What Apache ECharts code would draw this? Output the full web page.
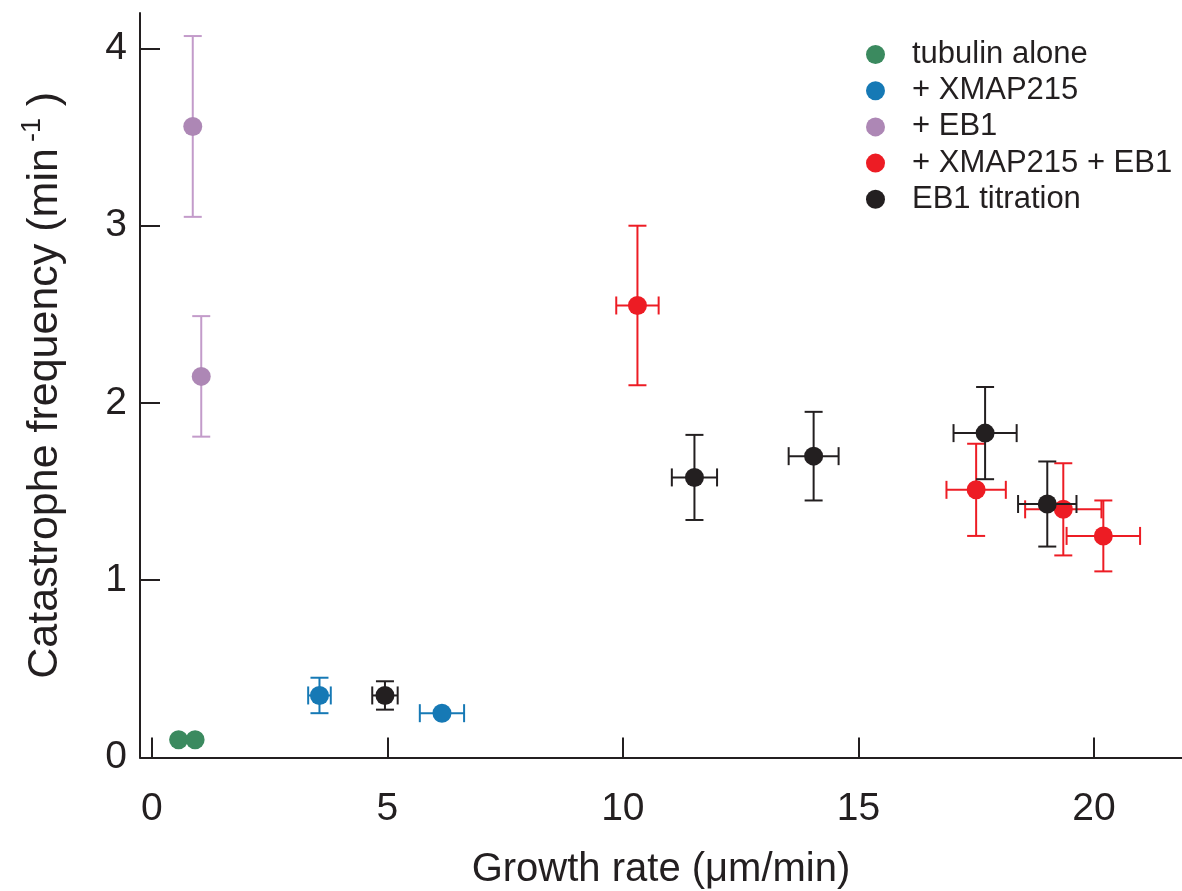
<!DOCTYPE html>
<html>
<head>
<meta charset="utf-8">
<script src="https://cdn.jsdelivr.net/npm/echarts@6/dist/echarts.min.js"></script>
<style>html,body{margin:0;padding:0;background:#fff;}#c{width:1182px;height:891px;}</style>
</head>
<body>
<div id="c"></div>
<script>
// ---- data ----
const seriesNames = ['tubulin alone', '+ XMAP215', '+ EB1', '+ XMAP215 + EB1', 'EB1 titration'];
const xTicks = [0, 5, 10, 15, 20];
const yTicks = [0, 1, 2, 3, 4];

const tubulinX = [0.57, 0.92];
const tubulinY = [0.10, 0.10];
const tubulinXErr = [0, 0];
const tubulinYErr = [0, 0];

const xmapX = [3.56, 6.16];
const xmapY = [0.35, 0.25];
const xmapXErr = [0.24, 0.47];
const xmapYErr = [0.10, 0];

const eb1X = [0.87, 1.05];
const eb1Y = [3.56, 2.15];
const eb1XErr = [0, 0];
const eb1YErr = [0.51, 0.34];

const bothX = [10.31, 17.50, 19.35, 20.20];
const bothY = [2.55, 1.51, 1.40, 1.25];
const bothXErr = [0.45, 0.63, 0.81, 0.78];
const bothYErr = [0.45, 0.26, 0.26, 0.20];

const titX = [4.95, 11.52, 14.05, 17.69, 19.01];
const titY = [0.35, 1.58, 1.70, 1.83, 1.43];
const titXErr = [0.27, 0.48, 0.53, 0.67, 0.62];
const titYErr = [0.08, 0.24, 0.25, 0.26, 0.24];

// ---- styles ----
const markerColors = ['#3b8a5f', '#1679b5', '#ad87b5', '#ed1c24', '#231f20'];
const barColors = ['#3b8a5f', '#1679b5', '#c39bca', '#ed1c24', '#231f20'];
const FONT = 'Liberation Sans, Arial, Helvetica, sans-serif';

const groups = [
  [tubulinX, tubulinY, tubulinXErr, tubulinYErr],
  [xmapX, xmapY, xmapXErr, xmapYErr],
  [eb1X, eb1Y, eb1XErr, eb1YErr],
  [bothX, bothY, bothXErr, bothYErr],
  [titX, titY, titXErr, titYErr]
];

function makeRender(color) {
  return function (params, api) {
    const x = api.value(0), y = api.value(1), ex = api.value(2), ey = api.value(3);
    const children = [];
    const st = { stroke: color, lineWidth: 2 };
    const cap = 9;
    if (ey > 0) {
      const t = api.coord([x, y + ey]), b = api.coord([x, y - ey]);
      children.push({ type: 'line', shape: { x1: t[0], y1: t[1], x2: b[0], y2: b[1] }, style: st });
      children.push({ type: 'line', shape: { x1: t[0] - cap, y1: t[1], x2: t[0] + cap, y2: t[1] }, style: st });
      children.push({ type: 'line', shape: { x1: b[0] - cap, y1: b[1], x2: b[0] + cap, y2: b[1] }, style: st });
    }
    if (ex > 0) {
      const l = api.coord([x - ex, y]), r = api.coord([x + ex, y]);
      children.push({ type: 'line', shape: { x1: l[0], y1: l[1], x2: r[0], y2: r[1] }, style: st });
      children.push({ type: 'line', shape: { x1: l[0], y1: l[1] - cap, x2: l[0], y2: l[1] + cap }, style: st });
      children.push({ type: 'line', shape: { x1: r[0], y1: r[1] - cap, x2: r[0], y2: r[1] + cap }, style: st });
    }
    return { type: 'group', children: children };
  };
}

const series = [];
groups.forEach(function (g, i) {
  const data = g[0].map(function (v, k) { return [v, g[1][k], g[2][k], g[3][k]]; });
  series.push({
    type: 'custom', name: seriesNames[i], data: data,
    renderItem: makeRender(barColors[i]),
    itemStyle: { color: markerColors[i] },
    encode: { x: 0, y: 1 },
    z: 2 + i * 2, silent: true
  });
  series.push({
    type: 'scatter', name: seriesNames[i],
    data: data.map(function (d) { return [d[0], d[1]]; }),
    symbol: 'circle', symbolSize: 19,
    itemStyle: { color: markerColors[i], opacity: 1 },
    z: 3 + i * 2
  });
});

const chart = echarts.init(document.getElementById('c'), null, { renderer: 'canvas' });
chart.setOption({
  animation: false,
  backgroundColor: '#ffffff',
  textStyle: { fontFamily: FONT },
  grid: { left: 140, right: 0, top: 13, bottom: 133.5, containLabel: false, outerBoundsMode: 'none' },
  legend: {
    orient: 'vertical',
    left: 861, top: 34,
    itemWidth: 19, itemHeight: 19,
    itemGap: 5.2,
    icon: 'circle',
    textStyle: { fontFamily: FONT, fontSize: 31, color: '#231f20', padding: [0, 0, 0, 22] },
    data: seriesNames.map(function (n, i) { return { name: n, icon: 'circle', itemStyle: { color: markerColors[i] } }; }),
    selectedMode: false
  },
  xAxis: {
    type: 'value', min: -0.25, max: 21.87,
    name: 'Growth rate (\u03bcm/min)', nameLocation: 'middle', nameGap: 92,
    nameTextStyle: { fontFamily: FONT, fontSize: 40, color: '#231f20' },
    axisLine: { onZero: false, lineStyle: { color: '#231f20', width: 2 } },
    axisTick: { inside: true, length: 20, lineStyle: { color: '#231f20', width: 2 }, customValues: xTicks },
    axisLabel: { fontFamily: FONT, fontSize: 39, color: '#231f20', margin: 32, customValues: xTicks },
    splitLine: { show: false }
  },
  yAxis: {
    type: 'value', min: 0, max: 4.2,
    name: '{a|Catastrophe frequency (min}{s|-1}{a| )}', nameLocation: 'middle', nameGap: 68,
    nameTextStyle: {
      fontFamily: FONT, fontSize: 43, color: '#231f20',
      rich: {
        a: { fontFamily: FONT, fontSize: 43, color: '#231f20' },
        s: { fontFamily: FONT, fontSize: 27, color: '#231f20', padding: [0, 0, 26, 6] }
      }
    },
    axisLine: { onZero: false, lineStyle: { color: '#231f20', width: 2 } },
    axisTick: { inside: true, length: 20, lineStyle: { color: '#231f20', width: 2 }, customValues: yTicks },
    axisLabel: { fontFamily: FONT, fontSize: 39, color: '#231f20', margin: 13, customValues: yTicks },
    splitLine: { show: false }
  },
  series: series
});
</script>
</body>
</html>
